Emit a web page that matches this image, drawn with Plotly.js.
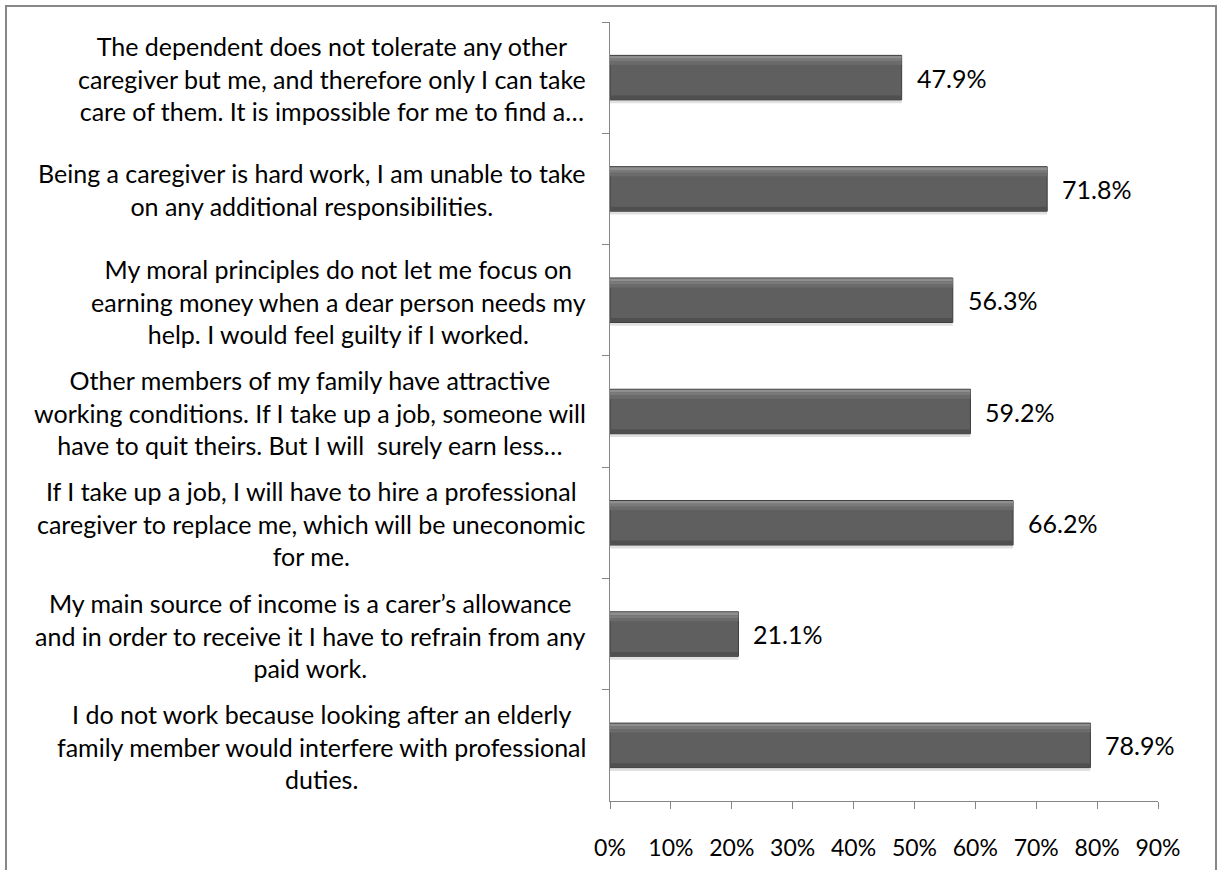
<!DOCTYPE html>
<html>
<head>
<meta charset="utf-8">
<script src="https://cdn.plot.ly/plotly-3.0.1.min.js"></script>
<style>
html,body{margin:0;padding:0;background:#fff;}
#chart{width:1218px;height:870px;}
</style>
</head>
<body>
<div id="chart"></div>
<script>
// Category labels (top to bottom), as displayed lines
const labelLines = [
  ["The dependent does not tolerate any other", "caregiver but me, and therefore only I can take", "care of them. It is impossible for me to find a…"],
  ["Being a caregiver is hard work, I am unable to take", "on any additional responsibilities."],
  ["My moral principles do not let me focus on", "earning money when a dear person needs my", "help. I would feel guilty if I worked."],
  ["Other members of my family have attractive", "working conditions. If I take up a job, someone will", "have to quit theirs. But I will  surely earn less…"],
  ["If I take up a job, I will have to hire a professional", "caregiver to replace me, which will be uneconomic", "for me."],
  ["My main source of income is a carer’s allowance", "and in order to receive it I have to refrain from any", "paid work."],
  ["I do not work because looking after an elderly", "family member would interfere with professional", "duties."]
];
const categories = labelLines.map(l => l.join(" "));
const values = [47.9, 71.8, 56.3, 59.2, 66.2, 21.1, 78.9];
const tickVals = [0, 10, 20, 30, 40, 50, 60, 70, 80, 90];
const tickText = ["0%", "10%", "20%", "30%", "40%", "50%", "60%", "70%", "80%", "90%"];

const FONT = "Lato, 'Open Sans', sans-serif";
const FS = 25;

function barLayer(color, offset, width, lineColor, lineWidth) {
  return {
    type: "bar", orientation: "h",
    x: values, y: categories,
    offset: offset, width: width,
    marker: {color: color, line: {color: lineColor || color, width: lineWidth || 0}},
    hoverinfo: "skip", showlegend: false
  };
}

const traces = [
  barLayer("rgba(0,0,0,0.12)", -0.17, 0.4),          // drop shadow
  barLayer("#5f5f5f", -0.2, 0.4, "#3d3d3d", 1),      // body
  barLayer("#8f8f8f", -0.195, 0.025),                // top light bevel
  barLayer("#7a7a7a", -0.17, 0.025),                 // upper gradient
  barLayer("#6b6b6b", -0.145, 0.03),                 // upper gradient 2
  barLayer("#4f4f4f", 0.16, 0.035)                   // lower dark bevel
];

const annotations = [];
labelLines.forEach((lines, i) => {
  annotations.push({
    xref: "paper", yref: "y", x: (588 - 610) / 548, y: categories[i],
    xanchor: "right", yanchor: "middle", align: "center",
    yshift: -1,
    text: lines.join("<br>"), showarrow: false,
    font: {family: FONT, size: FS, color: "#000"}
  });
  annotations.push({
    xref: "x", yref: "y", x: values[i], y: categories[i],
    xanchor: "left", yanchor: "middle", xshift: 13,
    text: values[i].toFixed(1) + "%", showarrow: false,
    font: {family: FONT, size: FS, color: "#000"}
  });
});

const layout = {
  width: 1218, height: 870,
  margin: {l: 610, r: 60, t: 22, b: 69},
  paper_bgcolor: "#fff", plot_bgcolor: "#fff",
  barmode: "overlay",
  font: {family: FONT, size: FS, color: "#000"},
  xaxis: {
    range: [0, 90], tickvals: tickVals, ticktext: tickText,
    showgrid: false, zeroline: false,
    showline: true, linecolor: "#868686", linewidth: 1,
    ticks: "outside", ticklen: 7, tickcolor: "#868686",
    tickfont: {family: FONT, size: 23, color: "#000"},
    ticklabelstandoff: 19,
    fixedrange: true
  },
  yaxis: {
    type: "category", autorange: "reversed",
    showticklabels: false, showgrid: false, zeroline: false,
    showline: true, linecolor: "#868686", linewidth: 1,
    ticks: "outside", ticklen: 7, tickcolor: "#868686",
    tickson: "boundaries",
    fixedrange: true
  },
  annotations: annotations,
  shapes: [{
    type: "rect", xref: "paper", yref: "paper",
    x0: (6 - 610) / 548, x1: (1216 - 610) / 548,
    y0: -0.2, y1: (801 - 6) / 779,
    line: {color: "#878787", width: 2}, fillcolor: "rgba(0,0,0,0)"
  }]
};

Plotly.newPlot("chart", traces, layout, {displayModeBar: false, staticPlot: true});
</script>
</body>
</html>
